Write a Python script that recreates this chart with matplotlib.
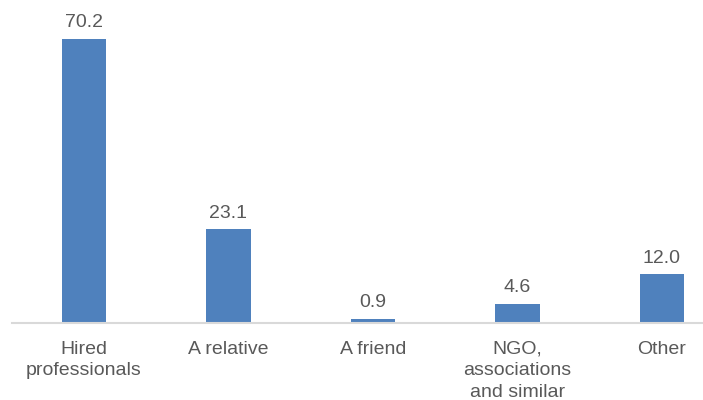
import matplotlib.pyplot as plt

plt.rcParams["font.family"] = ["Liberation Sans", "DejaVu Sans"]

categories = ["Hired\nprofessionals", "A relative", "A friend", "NGO,\nassociations\nand similar", "Other"]
values = [70.2, 23.1, 0.9, 4.6, 12.0]

BAR_COLOR = "#4F81BD"
TEXT_COLOR = "#595959"
AXIS_COLOR = "#D9D9D9"

W, H = 703, 400
fig = plt.figure(figsize=(W / 100, H / 100), dpi=100, facecolor="white")

# axes wider than figure: the right end of the category axis is cut off as in the reference
step = 144.5
left_px = 84.0 - step / 2
base_px = 400 - 322.7
ymax = 80
px_per_unit = (322.7 - 39) / 70.2
ax = fig.add_axes([left_px / W, base_px / H, 5 * step / W, ymax * px_per_unit / H])

x = range(len(values))
ax.bar(x, values, width=0.31, color=BAR_COLOR)
ax.set_xlim(-0.5, 4.5)
ax.set_ylim(0, ymax)

for xi, v in zip(x, values):
    ax.annotate(f"{v:.1f}", (xi, v), xytext=(0, 5.5), textcoords="offset points",
                ha="center", va="bottom", fontsize=14, color=TEXT_COLOR, annotation_clip=False)

ax.set_xticks(list(x))
ax.set_xticklabels(categories, fontsize=14, color=TEXT_COLOR, linespacing=1.34)
ax.tick_params(axis="x", length=0, pad=13)
ax.set_yticks([])

for side in ["top", "right", "left"]:
    ax.spines[side].set_visible(False)
ax.spines["bottom"].set_color(AXIS_COLOR)
ax.spines["bottom"].set_linewidth(1.5)
ax.patch.set_alpha(0)

fig.savefig("out.png", dpi=100, facecolor="white")
